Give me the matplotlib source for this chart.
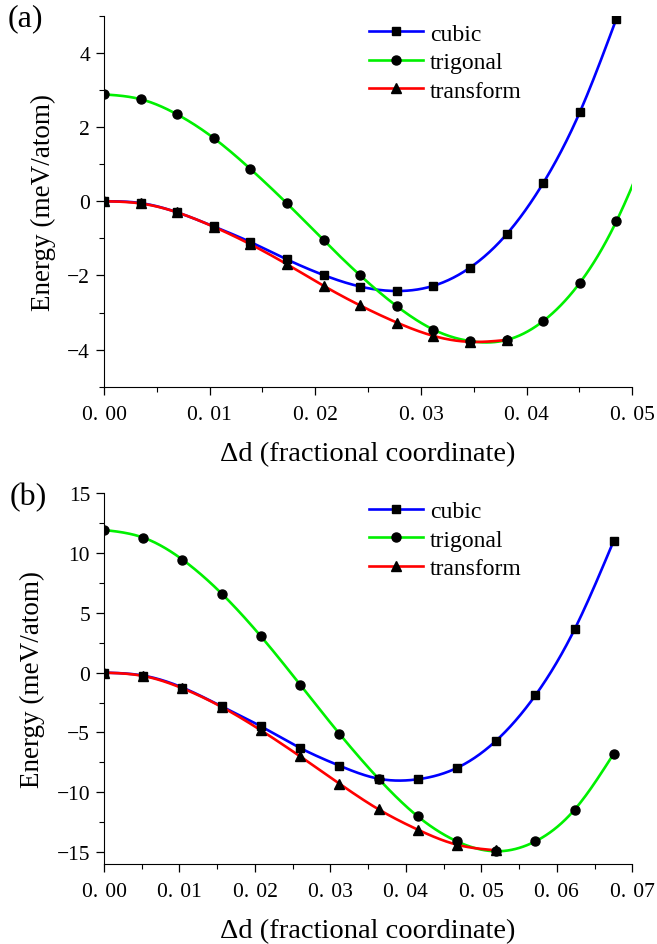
import numpy as np
import matplotlib
matplotlib.use("Agg")
import matplotlib.pyplot as plt
from matplotlib.ticker import MultipleLocator, FixedLocator

plt.rcParams['font.family'] = ['Liberation Serif', 'DejaVu Serif']

# panel (a): step 0.002*sqrt(3)
step_a = 0.002 * np.sqrt(3)
cubic_a = [0.0, -0.05, -0.30, -0.68, -1.10, -1.57, -1.99, -2.30, -2.42, -2.28,
           -1.79, -0.89, 0.49, 2.40, 4.92]
trigonal_a = [2.88, 2.75, 2.34, 1.70, 0.87, -0.06, -1.05, -2.00, -2.83, -3.46,
              -3.77, -3.74, -3.23, -2.20, -0.54, 1.78]
transform_a = [0.0, -0.06, -0.30, -0.69, -1.16, -1.70, -2.28, -2.81, -3.27,
               -3.63, -3.79, -3.74]

# panel (b): step 0.003*sqrt(3)
step_b = 0.003 * np.sqrt(3)
cubic_b = [0.0, -0.25, -1.25, -2.82, -4.49, -6.30, -7.78, -8.87, -8.92, -7.97,
           -5.69, -1.90, 3.62, 11.04]
trigonal_b = [11.93, 11.29, 9.45, 6.61, 3.04, -1.00, -5.10, -8.87, -12.02,
              -14.11, -14.94, -14.11, -11.46, -6.77]
transform_b = [0.0, -0.28, -1.31, -2.87, -4.82, -7.00, -9.28, -11.43, -13.13,
               -14.39, -14.86]

names = ['cubic', 'trigonal', 'transform']
colors = ['#0000ff', '#00f000', '#ff0000']
markers = ['s', 'o', '^']
msizes = [5.5, 6.5, 6.5]


def spline(x, y, n=400):
    # natural cubic spline, only for drawing the smooth line
    x = np.asarray(x, float)
    y = np.asarray(y, float)
    k = len(x)
    h = np.diff(x)
    A = np.zeros((k, k))
    b = np.zeros(k)
    A[0, 0] = A[-1, -1] = 1
    for i in range(1, k - 1):
        A[i, i - 1] = h[i - 1]
        A[i, i] = 2 * (h[i - 1] + h[i])
        A[i, i + 1] = h[i]
        b[i] = 6 * ((y[i + 1] - y[i]) / h[i] - (y[i] - y[i - 1]) / h[i - 1])
    M = np.linalg.solve(A, b)
    xs = np.linspace(x[0], x[-1], n)
    idx = np.clip(np.searchsorted(x, xs) - 1, 0, k - 2)
    x0, x1 = x[idx], x[idx + 1]
    hh = x1 - x0
    t0 = x1 - xs
    t1 = xs - x0
    ys = (M[idx] * t0**3 + M[idx + 1] * t1**3) / (6 * hh) \
        + (y[idx] / hh - M[idx] * hh / 6) * t0 + (y[idx + 1] / hh - M[idx + 1] * hh / 6) * t1
    return xs, ys


fig = plt.figure(figsize=(6.57, 9.45), dpi=100)
ax1 = fig.add_axes([0.1583, 0.5897, 0.8041, 0.3926])
ax2 = fig.add_axes([0.1583, 0.0847, 0.8041, 0.3923])

panels = [
    (ax1, step_a, [cubic_a, trigonal_a, transform_a], (0, 0.05), (-5, 5)),
    (ax2, step_b, [cubic_b, trigonal_b, transform_b], (0, 0.07), (-16, 15)),
]

for ax, step, series, xl, yl in panels:
    for vals, name, c, m, ms in zip(series, names, colors, markers, msizes):
        x = np.arange(len(vals)) * step
        xs, ys = spline(x, vals)
        ax.plot(xs, ys, color=c, lw=1.9, zorder=2)
        ax.plot(x, vals, ls='none', marker=m, ms=ms, color='black', zorder=3)
        ax.plot([], [], color=c, lw=1.9, marker=m, ms=ms, mfc='black', mec='black', label=name)
    ax.set_xlim(*xl)
    ax.set_ylim(*yl)
    for s in ['top', 'right']:
        ax.spines[s].set_visible(False)
    ax.tick_params(which='major', direction='out', length=6, width=0.9, labelsize=15.5, pad=4)
    ax.tick_params(which='minor', direction='out', length=3.5, width=0.8)
    ax.tick_params(axis='x', which='major', pad=7)
    ax.xaxis.set_minor_locator(MultipleLocator(0.005))
    xt = np.round(np.arange(xl[0], xl[1] + 1e-9, 0.01), 2)
    ax.xaxis.set_major_locator(FixedLocator(xt))
    ax.set_xticklabels([('%.2f' % v).replace('.', '.\u2004') for v in xt])
    ax.set_xlabel('Δd (fractional coordinate)', fontsize=20.5, labelpad=12.5)
    ax.set_ylabel('Energy (meV/atom)', fontsize=19.5, labelpad=8)
    ax.legend(loc='upper left', bbox_to_anchor=(0.47, 1.025), frameon=False, fontsize=17,
              handlelength=2.3, handletextpad=0.3, labelspacing=0.3, borderaxespad=0.3)

ax1.yaxis.set_major_locator(FixedLocator([-4, -2, 0, 2, 4]))
ax1.yaxis.set_minor_locator(MultipleLocator(1))
ax1.set_yticklabels(['−4', '−2', '0', '2', '4'])
ax2.yaxis.set_major_locator(FixedLocator([-15, -10, -5, 0, 5, 10, 15]))
ax2.yaxis.set_minor_locator(MultipleLocator(2.5))
ax2.set_yticklabels(['−15', '−10', '−5', '0', '5', '10', '15'])

fig.text(0.012, 0.980, '(a)', fontsize=23, va='center', ha='left')
fig.text(0.014, 0.473, '(b)', fontsize=23, va='center', ha='left')

fig.savefig('out.png', dpi=100)
